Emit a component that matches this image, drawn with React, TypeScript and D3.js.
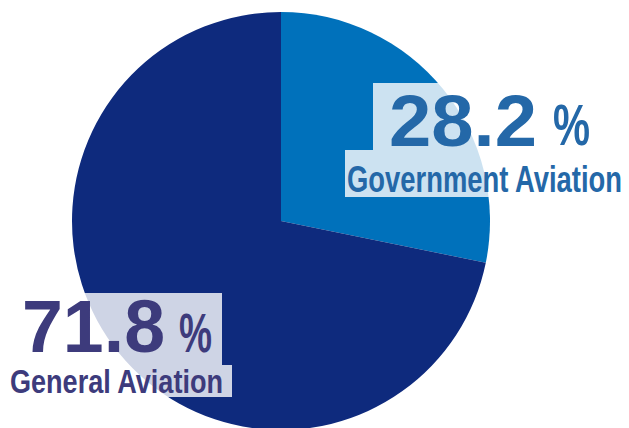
import React from "react";
import * as d3 from "d3";

const categories = ["Government Aviation", "General Aviation"];
const values = [28.2, 71.8];
const sliceColors = ["#0071bb", "#0e2a7d"];
const textColors = ["#2468a8", "#3d3b7c"];

const W = 629;
const H = 428;

export default function App() {
  const cx = 281;
  const cy = 221;
  const r = 209;
  const pie = d3.pie<number>().sort(null).startAngle(0).endAngle(2 * Math.PI);
  const arcs = pie(values);
  const arcGen = d3.arc<d3.PieArcDatum<number>>().innerRadius(0).outerRadius(r);
  const font = "'Liberation Sans Narrow', 'Liberation Sans', Arial, sans-serif";

  return (
    <svg
      width={W}
      height={H}
      style={{ position: "absolute", left: 0, top: 0, background: "#ffffff" }}
    >
      <g transform={`translate(${cx},${cy})`}>
        {arcs.map((a, i) => (
          <path key={i} d={arcGen(a) || ""} fill={sliceColors[i]} />
        ))}
      </g>
      {/* Government label */}
      <g>
        <rect x={373} y={83} width={225} height={67} fill="#fff" opacity={0.8} />
        <rect x={345} y={150} width={281} height={47} fill="#fff" opacity={0.8} />
        <text
          x={389}
          y={146}
          fontFamily={font}
          fontWeight="bold"
          fontSize={72}
          fill={textColors[0]}
          textLength={148}
          lengthAdjust="spacingAndGlyphs"
        >
          {values[0].toFixed(1)}
        </text>
        <text
          x={553}
          y={145}
          fontFamily={font}
          fontWeight="bold"
          fontSize={58}
          fill={textColors[0]}
          textLength={37}
          lengthAdjust="spacingAndGlyphs"
        >
          %
        </text>
        <text
          x={347}
          y={192}
          fontFamily={font}
          fontWeight="bold"
          fontSize={37}
          fill={textColors[0]}
          textLength={275}
          lengthAdjust="spacingAndGlyphs"
        >
          {categories[0]}
        </text>
      </g>
      {/* General label */}
      <g>
        <rect x={20} y={293} width={202} height={72} fill="#fff" opacity={0.8} />
        <rect x={0} y={365} width={232} height={32} fill="#fff" opacity={0.8} />
        <text
          x={22}
          y={352}
          fontFamily={font}
          fontWeight="bold"
          fontSize={75}
          fill={textColors[1]}
          textLength={143}
          lengthAdjust="spacingAndGlyphs"
        >
          {values[1].toFixed(1)}
        </text>
        <text
          x={179}
          y={352}
          fontFamily={font}
          fontWeight="bold"
          fontSize={55}
          fill={textColors[1]}
          textLength={33}
          lengthAdjust="spacingAndGlyphs"
        >
          %
        </text>
        <text
          x={10}
          y={393}
          fontFamily={font}
          fontWeight="bold"
          fontSize={33}
          fill={textColors[1]}
          textLength={213}
          lengthAdjust="spacingAndGlyphs"
        >
          {categories[1]}
        </text>
      </g>
    </svg>
  );
}
